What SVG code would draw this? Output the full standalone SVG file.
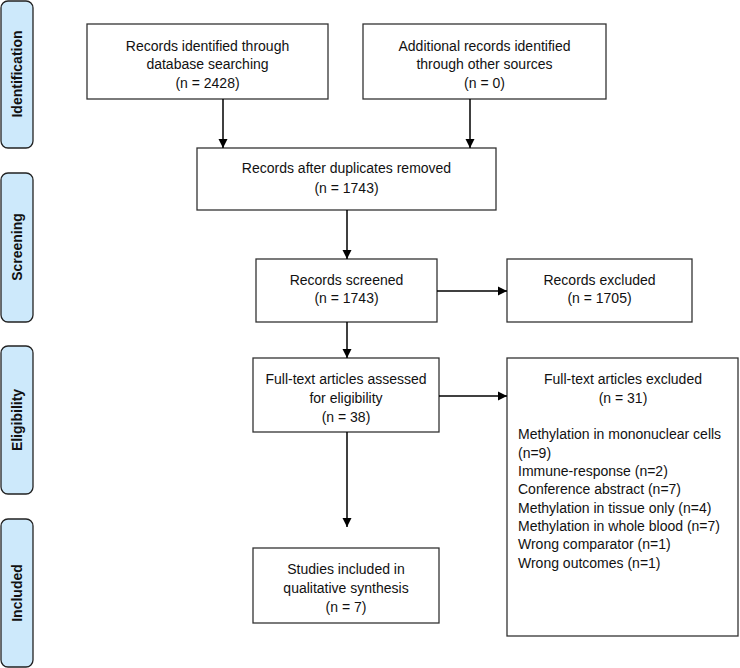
<svg xmlns="http://www.w3.org/2000/svg" width="740" height="668" viewBox="0 0 740 668">
<defs>
<marker id="ah" markerWidth="10" markerHeight="10" refX="9" refY="5" orient="auto" markerUnits="userSpaceOnUse">
<path d="M0,0.5 L9,5 L0,9.5 Z" fill="#000"/>
</marker>
<style>
.side{fill:#cde9fb;stroke:#222;stroke-width:1.3}
.box{fill:#fff;stroke:#333;stroke-width:1.3}
.t{font-family:"Liberation Sans",Arial,sans-serif;font-size:14px;fill:#111}
.c{text-anchor:middle}
.s{font-family:"Liberation Sans",Arial,sans-serif;font-size:14px;font-weight:bold;fill:#111;text-anchor:middle}
.conn{stroke:#000;stroke-width:1.5;fill:none;marker-end:url(#ah)}
</style>
</defs>
<rect width="740" height="668" fill="#fff"/>
<g id="side-identification"><rect class="side" x="1" y="1" width="32" height="147" rx="7"/><text class="s" transform="translate(22,74) rotate(-90)">Identification</text></g>
<g id="side-screening"><rect class="side" x="1" y="173" width="32" height="149" rx="7"/><text class="s" transform="translate(22,247) rotate(-90)">Screening</text></g>
<g id="side-eligibility"><rect class="side" x="1" y="346" width="32" height="148" rx="7"/><text class="s" transform="translate(22,420) rotate(-90)">Eligibility</text></g>
<g id="side-included"><rect class="side" x="1" y="519" width="32" height="148" rx="7"/><text class="s" transform="translate(22,593) rotate(-90)">Included</text></g>

<g id="n1"><rect class="box" x="87" y="24" width="241" height="75"/>
<text class="t c" x="207.5" y="51">Records identified through</text>
<text class="t c" x="207.5" y="69">database searching</text>
<text class="t c" x="207.5" y="88">(n = 2428)</text></g>
<g id="n2"><rect class="box" x="363" y="24" width="243" height="75"/>
<text class="t c" x="484.5" y="51">Additional records identified</text>
<text class="t c" x="484.5" y="69">through other sources</text>
<text class="t c" x="484.5" y="88">(n = 0)</text></g>
<g id="n3"><rect class="box" x="197" y="148" width="299" height="62"/>
<text class="t c" x="346.5" y="173">Records after duplicates removed</text>
<text class="t c" x="346.5" y="193">(n = 1743)</text></g>
<g id="n4"><rect class="box" x="256" y="259" width="181" height="63"/>
<text class="t c" x="346.5" y="285">Records screened</text>
<text class="t c" x="346.5" y="303">(n = 1743)</text></g>
<g id="n5"><rect class="box" x="507" y="259" width="185" height="63"/>
<text class="t c" x="599.5" y="285">Records excluded</text>
<text class="t c" x="599.5" y="303">(n = 1705)</text></g>
<g id="n6"><rect class="box" x="253" y="358" width="186" height="74"/>
<text class="t c" x="346" y="384">Full-text articles assessed</text>
<text class="t c" x="346" y="403">for eligibility</text>
<text class="t c" x="346" y="422">(n = 38)</text></g>
<g id="n7"><rect class="box" x="507" y="358" width="231" height="278"/>
<text class="t c" x="623" y="384">Full-text articles excluded</text>
<text class="t c" x="623" y="403">(n = 31)</text>
<text class="t" x="518" y="439">Methylation in mononuclear cells</text>
<text class="t" x="518" y="458">(n=9)</text>
<text class="t" x="518" y="476">Immune-response (n=2)</text>
<text class="t" x="518" y="494">Conference abstract (n=7)</text>
<text class="t" x="518" y="513">Methylation in tissue only (n=4)</text>
<text class="t" x="518" y="531">Methylation in whole blood (n=7)</text>
<text class="t" x="518" y="549">Wrong comparator (n=1)</text>
<text class="t" x="518" y="568">Wrong outcomes (n=1)</text></g>
<g id="n8"><rect class="box" x="253" y="548" width="186" height="75"/>
<text class="t c" x="346" y="574">Studies included in</text>
<text class="t c" x="346" y="593">qualitative synthesis</text>
<text class="t c" x="346" y="612">(n = 7)</text></g>

<g id="connectors">
<line class="conn" x1="223" y1="99" x2="223" y2="148"/>
<line class="conn" x1="470" y1="99" x2="470" y2="148"/>
<line class="conn" x1="347" y1="210" x2="347" y2="259"/>
<line class="conn" x1="437" y1="291" x2="507" y2="291"/>
<line class="conn" x1="347" y1="322" x2="347" y2="358"/>
<line class="conn" x1="439" y1="396" x2="507" y2="396"/>
<line class="conn" x1="347" y1="432" x2="347" y2="527"/>
</g>
</svg>
